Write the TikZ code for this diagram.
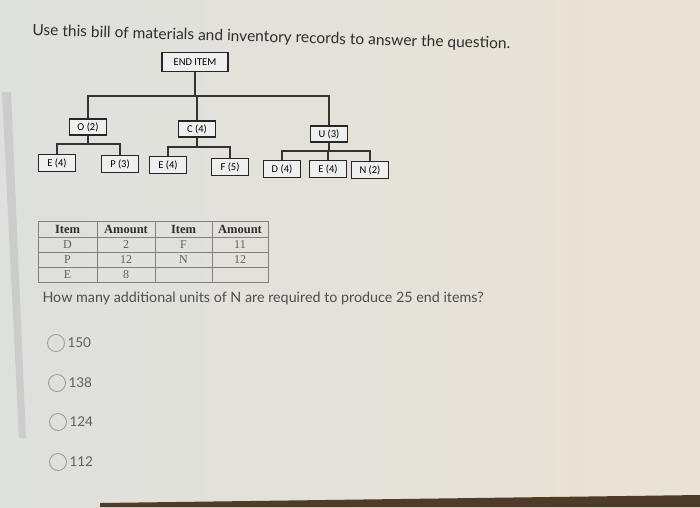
\documentclass[tikz,border=0pt]{standalone}
\usepackage{fontspec}
\setmainfont{Lato}
\newfontfamily\boxfont{Carlito}
\newfontfamily\tabfont{Liberation Serif}
\usetikzlibrary{positioning}

\definecolor{sfondo}{HTML}{DEE0DD}
\definecolor{sfondodx}{HTML}{EAE3D5}
\definecolor{testo}{HTML}{2E2E2E}
\definecolor{grigio}{HTML}{5E5E5E}
\definecolor{linea}{HTML}{808080}
\definecolor{bordo}{HTML}{4E3B28}

\tikzset{
  blocco/.style={draw=black!85, line width=1.1pt, fill=white!50!sfondo,
    font=\boxfont\fontsize{10.5}{11}\selectfont, inner sep=1pt,
    minimum width=37pt, minimum height=17pt},
  ramo/.style={line width=1.2pt, black!80},
  griglia/.style={linea, line width=0.8pt},
  testa/.style={font=\tabfont\bfseries\fontsize{12.5}{13}\selectfont, text=testo},
  cella/.style={font=\tabfont\fontsize{12}{13}\selectfont, text=grigio},
  scelta/.style={circle, draw=linea!80, line width=0.8pt, minimum size=17pt, inner sep=0pt},
  voce/.style={anchor=west, font=\fontsize{13.5}{14}\selectfont, text=grigio},
}

\begin{document}
\begin{tikzpicture}[x=1pt, y=-1pt]
  % Sfondo
  \fill[left color=sfondo, right color=sfondodx] (0,0) rectangle (700,507);
  \fill[black!20] (2,92) -- (11,92) -- (26,438) -- (19,438) -- cycle;
  \fill[bordo] (100,503) -- (700,495) -- (700,507) -- (100,507) -- cycle;
  \useasboundingbox (0,0) rectangle (700,507);

  % Domanda
  \node[anchor=west, rotate=-1.6, text=testo, font=\fontsize{15.5}{16}\selectfont]
    (titolo) at (29,31) {Use this bill of materials and inventory records to answer the question.};

  % Distinta base
  \node[blocco, minimum width=66pt, minimum height=19pt] (fine) at (195,62) {END ITEM};
  \node[blocco, minimum height=16pt] (o) at (88,127) {O (2)};
  \node[blocco, minimum height=16pt] (c) at (197,129) {C (4)};
  \node[blocco, minimum height=16pt] (u) at (329,134) {U (3)};

  \node[blocco] (eo) at (57,163) {E (4)};
  \node[blocco] (p)  at (120,164) {P (3)};
  \node[blocco] (ec) at (168,165) {E (4)};
  \node[blocco] (f)  at (230,167) {F (5)};
  \node[blocco] (d)  at (282,169) {D (4)};
  \node[blocco] (eu) at (328,169) {E (4)};
  \node[blocco] (n)  at (370,170) {N (2)};

  \coordinate (bus) at (0,96);
  \coordinate (bus1) at (0,144);
  \coordinate (bus2) at (0,147);
  \coordinate (bus3) at (0,151);
  \draw[ramo] (fine.south) -- (fine.south |- bus);
  \draw[ramo] (o.north) -- (o.north |- bus) -| (u.north);
  \draw[ramo] (c.north) -- (c.north |- bus);
  \draw[ramo] (o.south) -- (o.south |- bus1);
  \draw[ramo] (eo.north) -- (eo.north |- bus1) -| (p.north);
  \draw[ramo] (c.south) -- (c.south |- bus2);
  \draw[ramo] (ec.north) -- (ec.north |- bus2) -| (f.north);
  \draw[ramo] (u.south) -- (u.south |- bus3);
  \draw[ramo] (d.north) -- (d.north |- bus3) -| (n.north);
  \draw[ramo] (eu.north) -- (eu.north |- bus3);

  % Tabella scorte
  \draw[griglia] (38,221) rectangle (268,282);
  \draw[griglia] (38,237) -- (268,237);
  \draw[griglia] (38,252) -- (268,252);
  \draw[griglia] (38,267) -- (268,267);
  \draw[griglia] (97,221) -- (97,282);
  \draw[griglia] (155,221) -- (155,282);
  \draw[griglia] (212,221) -- (212,282);

  \node[testa] (t1) at (67.5,229.5) {Item};
  \node[testa] (t2) at (126,229.5) {Amount};
  \node[testa] (t3) at (183.5,229.5) {Item};
  \node[testa] (t4) at (240,229.5) {Amount};
  \node[cella] (r1a) at (67.5,245) {D};
  \node[cella] (r1b) at (126,245) {2};
  \node[cella] (r1c) at (183.5,245) {F};
  \node[cella] (r1d) at (240,245) {11};
  \node[cella] (r2a) at (67.5,260) {P};
  \node[cella] (r2b) at (126,260) {12};
  \node[cella] (r2c) at (183.5,260) {N};
  \node[cella] (r2d) at (240,260) {12};
  \node[cella] (r3a) at (67.5,275) {E};
  \node[cella] (r3b) at (126,275) {8};

  \node[anchor=west, text=testo!85, font=\fontsize{14.3}{15}\selectfont]
    (quesito) at (39,298) {How many additional units of N are required to produce 25 end items?};

  % Risposte
  \node[scelta] (s1) at (56,343) {};
  \node[voce] (v1) at (64,343) {150};
  \node[scelta] (s2) at (57,383) {};
  \node[voce] (v2) at (65,383) {138};
  \node[scelta] (s3) at (58,422) {};
  \node[voce] (v3) at (66,422) {124};
  \node[scelta] (s4) at (58,462) {};
  \node[voce] (v4) at (66,462) {112};
\end{tikzpicture}
\end{document}
